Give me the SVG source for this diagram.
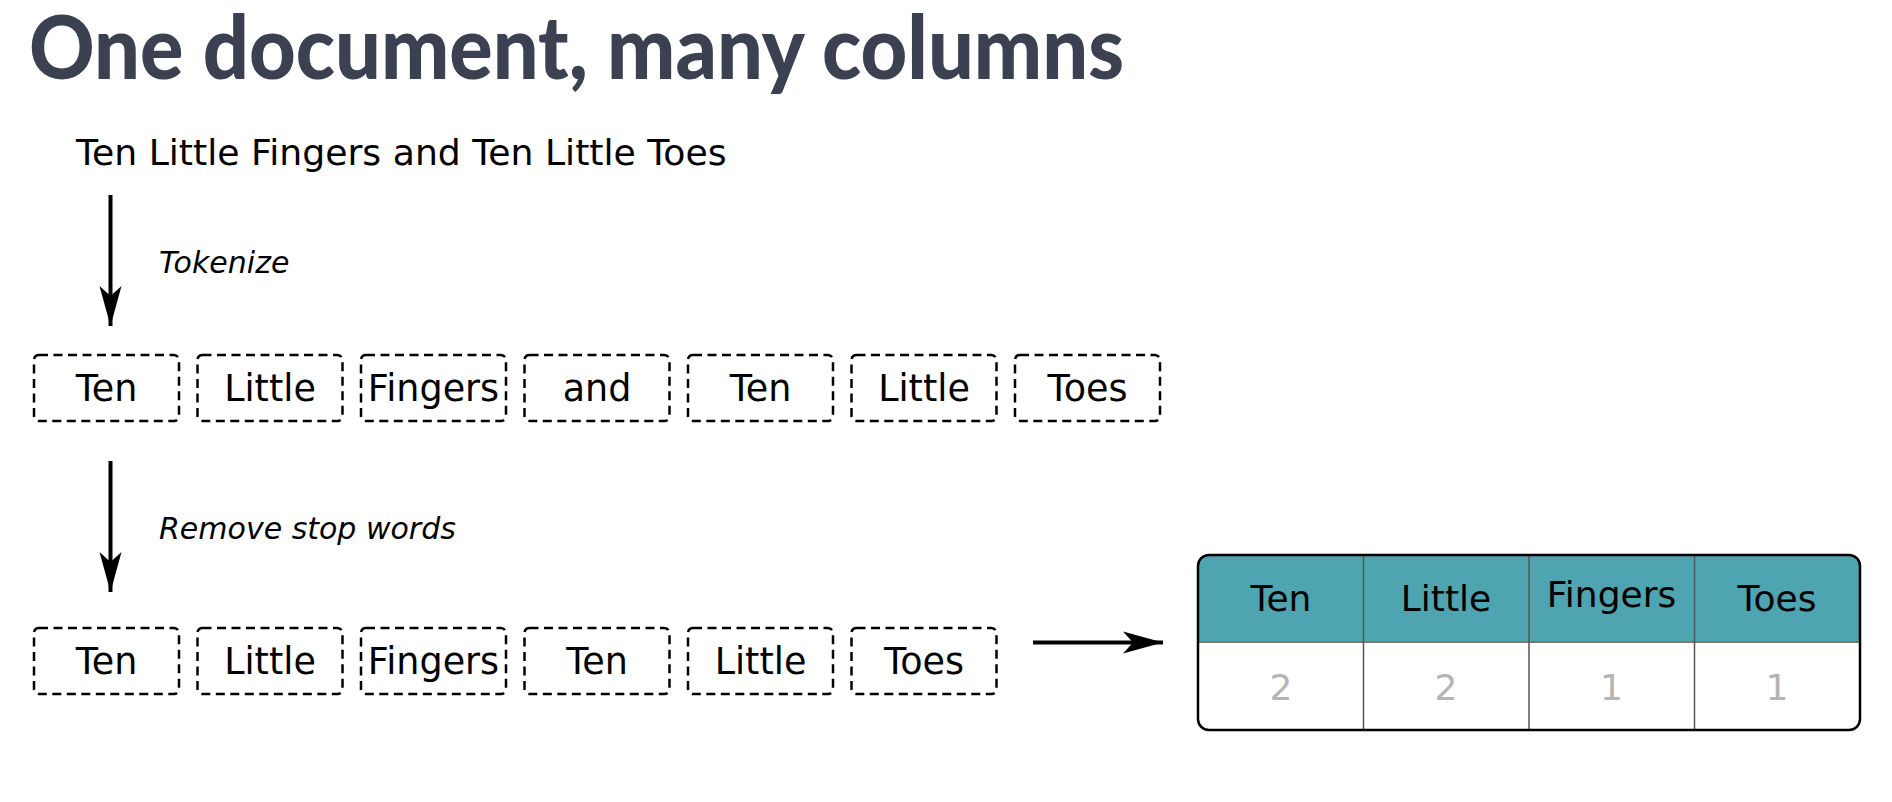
<svg xmlns="http://www.w3.org/2000/svg" width="1892" height="802" viewBox="0 0 1892 802">
  <style>
    .title { font-family: Lato, "Liberation Sans", sans-serif; font-weight: 900; font-size: 88px; fill: #3c4152; }
    .txt { font-family: "DejaVu Sans", "Liberation Sans", sans-serif; font-size: 36.2px; fill: #000; }
    .lbl { font-family: "DejaVu Sans", "Liberation Sans", sans-serif; font-size: 30px; font-style: italic; fill: #000; }
    .tok rect { fill: #fff; stroke: #000; stroke-width: 2.5; stroke-dasharray: 9 5.5; }
    .tok text { font-family: "DejaVu Sans", "Liberation Sans", sans-serif; font-size: 36.5px; fill: #000; text-anchor: middle; }
    .conn line { stroke: #000; stroke-width: 4; }
    .hdr { font-family: "DejaVu Sans", "Liberation Sans", sans-serif; font-size: 36px; fill: #000; text-anchor: middle; }
    .val { font-family: "DejaVu Sans", "Liberation Sans", sans-serif; font-size: 36px; fill: #b4b4b4; text-anchor: middle; }
  </style>
  <defs>
    <marker id="head" markerUnits="userSpaceOnUse" markerWidth="44" markerHeight="26" refX="40" refY="13" orient="auto">
      <path d="M40,13 L0,2 L10,13 L0,24 Z" fill="#000"/>
    </marker>
    <clipPath id="tblClip">
      <rect x="1198" y="555" width="662" height="175" rx="11"/>
    </clipPath>
  </defs>

  <rect width="1892" height="802" fill="#fff"/>

  <text class="title" x="29" y="79" textLength="1095" lengthAdjust="spacingAndGlyphs">One document, many columns</text>

  <g id="sentence">
    <text class="txt" x="76" y="165">Ten Little Fingers and Ten Little Toes</text>
  </g>

  <g id="tokens">
    <g id="tok1-1" class="tok"><rect x="34" y="355" width="145" height="66" rx="5"/><text x="106.5" y="401">Ten</text></g>
    <g id="tok1-2" class="tok"><rect x="197.5" y="355" width="145" height="66" rx="5"/><text x="270" y="401">Little</text></g>
    <g id="tok1-3" class="tok"><rect x="361" y="355" width="145" height="66" rx="5"/><text x="433.5" y="401">Fingers</text></g>
    <g id="tok1-4" class="tok"><rect x="524.5" y="355" width="145" height="66" rx="5"/><text x="597" y="401">and</text></g>
    <g id="tok1-5" class="tok"><rect x="688" y="355" width="145" height="66" rx="5"/><text x="760.5" y="401">Ten</text></g>
    <g id="tok1-6" class="tok"><rect x="851.5" y="355" width="145" height="66" rx="5"/><text x="924" y="401">Little</text></g>
    <g id="tok1-7" class="tok"><rect x="1015" y="355" width="145" height="66" rx="5"/><text x="1087.5" y="401">Toes</text></g>
  </g>

  <g id="filtered">
    <g id="tok2-1" class="tok"><rect x="34" y="628" width="145" height="66" rx="5"/><text x="106.5" y="674">Ten</text></g>
    <g id="tok2-2" class="tok"><rect x="197.5" y="628" width="145" height="66" rx="5"/><text x="270" y="674">Little</text></g>
    <g id="tok2-3" class="tok"><rect x="361" y="628" width="145" height="66" rx="5"/><text x="433.5" y="674">Fingers</text></g>
    <g id="tok2-4" class="tok"><rect x="524.5" y="628" width="145" height="66" rx="5"/><text x="597" y="674">Ten</text></g>
    <g id="tok2-5" class="tok"><rect x="688" y="628" width="145" height="66" rx="5"/><text x="760.5" y="674">Little</text></g>
    <g id="tok2-6" class="tok"><rect x="851.5" y="628" width="145" height="66" rx="5"/><text x="924" y="674">Toes</text></g>
  </g>

  <g id="connectors" class="conn">
    <line x1="110.5" y1="195" x2="110.5" y2="326" marker-end="url(#head)"/>
    <text class="lbl" x="159" y="273">Tokenize</text>
    <line x1="110.5" y1="461" x2="110.5" y2="592" marker-end="url(#head)"/>
    <text class="lbl" x="159" y="539">Remove stop words</text>
    <line x1="1033" y1="642.5" x2="1163" y2="642.5" marker-end="url(#head)"/>
  </g>

  <g id="table">
    <g clip-path="url(#tblClip)">
      <rect x="1198" y="555" width="662" height="87" fill="#4ea4b1"/>
      <line x1="1198" y1="642" x2="1860" y2="642" stroke="#777" stroke-width="2"/>
      <line x1="1363.5" y1="555" x2="1363.5" y2="730" stroke="#555" stroke-width="1.5"/>
      <line x1="1529" y1="555" x2="1529" y2="730" stroke="#555" stroke-width="1.5"/>
      <line x1="1694.5" y1="555" x2="1694.5" y2="730" stroke="#555" stroke-width="1.5"/>
    </g>
    <rect x="1198" y="555" width="662" height="175" rx="11" fill="none" stroke="#000" stroke-width="2.5"/>
    <text class="hdr" x="1281" y="611">Ten</text>
    <text class="hdr" x="1446" y="611">Little</text>
    <text class="hdr" x="1611.5" y="607">Fingers</text>
    <text class="hdr" x="1777" y="611">Toes</text>
    <text class="val" x="1281" y="700">2</text>
    <text class="val" x="1446" y="700">2</text>
    <text class="val" x="1611.5" y="700">1</text>
    <text class="val" x="1777" y="700">1</text>
  </g>
</svg>
